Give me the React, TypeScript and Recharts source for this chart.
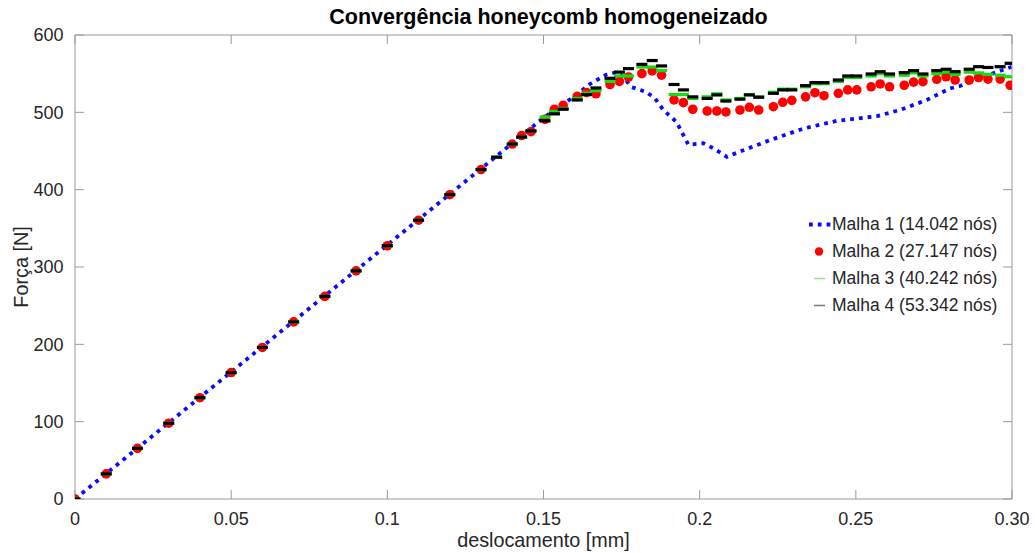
import { ComposedChart, XAxis, YAxis, Scatter, Line, Legend } from "recharts";

const FONT = "'Liberation Sans', Arial, Helvetica, sans-serif";

// deslocamentos comuns às malhas 2, 3 e 4 [mm]
const deslocamento = [
  0, 0.01, 0.02, 0.03, 0.04, 0.05, 0.06, 0.07, 0.08, 0.09, 0.1, 0.11, 0.12, 0.13, 0.135, 0.14, 0.143, 0.146,
  0.1505, 0.1535, 0.1563, 0.1608, 0.1638, 0.1668, 0.1713, 0.1743, 0.1772, 0.1815, 0.1848, 0.1878,
  0.1918, 0.1948, 0.1978, 0.2024, 0.2055, 0.2084, 0.2129, 0.2159, 0.2189, 0.2236, 0.2266, 0.2295,
  0.2339, 0.2369, 0.2398, 0.2444, 0.2474, 0.2503, 0.2549, 0.2578, 0.2608, 0.2655, 0.2685, 0.2715,
  0.2759, 0.2789, 0.2818, 0.2863, 0.2893, 0.2923, 0.2962, 0.2994,
];

// forças [N]; null = sem ponto nesse passo
const forcaMalha2 = [
  0, 32.5, 65.5, 98, 131, 163.5, 196, 229, 262, 295, 327.5, 360.5, 393.5, 426, null, 459, 470, 475,
  491, 504, 509, 520.7, 525.6, 524, 536, 540, 545.7, 550, 553.5, 548,
  516, 512.5, 504, 501.7, 501.7, 500.5, 503, 506.5, 503, 507.3, 513, 515.5,
  520, 525.4, 521.5, 524.6, 529, 529, 533, 536.7, 533, 535, 539, 539.7,
  542.7, 546, 541.8, 541.8, 545, 543, 543, 535,
];

const forcaMalha3 = [
  0, 32.5, 65.5, 98, 131, 163.5, 196, 229, 262, 295, 327.5, 360.5, 393.5, 426, 442, 459, 468, 476,
  494, 501, 505, 518, 525, 528, 540, 547, 547, 558.6, 558.6, 554,
  523, 523, 518, 520, 524, 516, 518, 523, 520, 526, 530, 530,
  533, 537, 537, 540, 545, 545, 547, 550, 547, 548, 551, 547,
  550, 552, 549, 552, 551, 549, 548, 546,
];

const forcaMalha4 = [
  0, 32.5, 65.5, 98, 131, 163.5, 196, 229, 262, 295, 327.5, 360.5, 393.5, 426, 442, 459, 468, 476,
  489, 498, 504, 516, 523, 531.5, 544, 552, 556.5, 562, 567, 560,
  536, 529, 520, 518, 522.5, 514.6, 517, 522.5, 519.5, 524.6, 529, 529,
  534.5, 538.4, 538.4, 541.8, 547, 547, 549.6, 552.5, 549.6, 551.3, 553.9, 549.6,
  553.9, 555.7, 552.6, 555.7, 559, 558, 559, 563.4,
];

// malha 1: curva contínua
const deslocamentoMalha1 = [
  0, 0.14, 0.15, 0.16, 0.165, 0.17, 0.1735, 0.176, 0.178, 0.183, 0.1857, 0.1884, 0.1926, 0.1964,
  0.2012, 0.2044, 0.2087, 0.214, 0.2225, 0.2332, 0.2439, 0.2567, 0.2641, 0.2727, 0.2802, 0.2834,
  0.2898, 0.2972, 0.3,
];
const forcaMalha1 = [
  0, 460, 493, 521, 537, 548.5, 552, 544, 533, 526, 518, 503, 487.5, 458,
  460, 453.5, 442.5, 451, 464, 479, 489, 495, 503, 516, 531, 534,
  545, 555, 559,
];

const xTicks = [0, 0.05, 0.1, 0.15, 0.2, 0.25, 0.3];
const xTickLabels = ["0", "0.05", "0.1", "0.15", "0.2", "0.25", "0.30"];
const yTicks = [0, 100, 200, 300, 400, 500, 600];

const legendLabels = [
  "Malha 1 (14.042 nós)",
  "Malha 2 (27.147 nós)",
  "Malha 3 (40.242 nós)",
  "Malha 4 (53.342 nós)",
];

const BLUE = "#0a0aff";
const RED = "#ff0000";
const GREEN = "#10e010";
const AXIS = "#9a9a9a";
const TEXT = "#262626";
const DOTS = "3.8 5";

const pontos = (xs: number[], ys: (number | null)[]) =>
  xs.map((x, i) => ({ x, y: ys[i] })).filter((p) => p.y !== null);

const malha1 = pontos(deslocamentoMalha1, forcaMalha1);
const malha2 = pontos(deslocamento, forcaMalha2);
const malha3 = pontos(deslocamento, forcaMalha3);
const malha4 = pontos(deslocamento, forcaMalha4);

const RedDot = (p: any) => <circle cx={p.cx} cy={p.cy} r={4.8} fill={RED} />;
const dash = (color: string) => (p: any) =>
  <rect x={p.cx - 5.5} y={p.cy - 1.6} width={11} height={3.2} fill={color} />;
const NoMark = () => null;

function ForceTitle() {
  return (
    <text
      x={21}
      y={267}
      transform="rotate(-90 21 267)"
      textAnchor="middle"
      dominantBaseline="central"
      fontSize={19.8}
      fill={TEXT}
      fontFamily={FONT}
    >
      Força [N]
    </text>
  );
}

function MeshLegend() {
  const samples = [
    <line x1={3} x2={25} y1={13.5} y2={13.5} stroke={BLUE} strokeWidth={3.8} strokeDasharray={DOTS} />,
    <circle cx={13} cy={13.5} r={4.2} fill={RED} />,
    <line x1={8} x2={19} y1={13.5} y2={13.5} stroke="#86e886" strokeWidth={1.5} />,
    <line x1={8} x2={19} y1={13.5} y2={13.5} stroke="#7a7a7a" strokeWidth={1.5} />,
  ];
  return (
    <div style={{ fontFamily: FONT, fontSize: 17.5, color: TEXT }}>
      {legendLabels.map((label, i) => (
        <div key={label} style={{ display: "flex", alignItems: "center", height: 27 }}>
          <svg width={26} height={27}>{samples[i]}</svg>
          <span style={{ whiteSpace: "nowrap" }}>{label}</span>
        </div>
      ))}
    </div>
  );
}

export default function App() {
  const tickStyle = { fill: TEXT, fontSize: 18, fontFamily: FONT };
  return (
    <div style={{ position: "absolute", left: 0, top: 0, background: "#fff" }}>
      <ComposedChart width={1035} height={553} margin={{ top: 34, right: 22, bottom: 0, left: 0 }}>
        <XAxis
          dataKey="x"
          type="number"
          domain={[0, 0.3]}
          ticks={xTicks}
          tickFormatter={(v: number) => xTickLabels[xTicks.indexOf(v)] ?? String(v)}
          height={54}
          tickSize={-9}
          tickMargin={22}
          stroke={AXIS}
          tick={tickStyle}
          allowDataOverflow
          label={{ value: "deslocamento [mm]", position: "insideBottom", offset: 6, fontSize: 19.8, fill: TEXT, fontFamily: FONT }}
        />
        {/* top edge of the box, with inward ticks and the title */}
        <XAxis
          xAxisId="top"
          orientation="top"
          dataKey="x"
          type="number"
          domain={[0, 0.3]}
          ticks={xTicks}
          tickFormatter={() => ""}
          height={1}
          tickSize={-9}
          stroke={AXIS}
          allowDataOverflow
          label={{
            value: "Convergência honeycomb homogeneizado",
            position: "top",
            offset: 10,
            dx: 5,
            fontSize: 21.5,
            fontWeight: "bold",
            fill: "#000",
            fontFamily: FONT,
          }}
        />
        <YAxis
          dataKey="y"
          type="number"
          domain={[0, 600]}
          ticks={yTicks}
          width={75}
          tickSize={-9}
          tickMargin={20.5}
          stroke={AXIS}
          tick={tickStyle}
          allowDataOverflow
          label={<ForceTitle />}
        />
        {/* right edge of the box */}
        <YAxis
          yAxisId="right"
          orientation="right"
          dataKey="y"
          type="number"
          domain={[0, 600]}
          ticks={yTicks}
          tickFormatter={() => ""}
          width={1}
          tickSize={-9}
          stroke={AXIS}
          allowDataOverflow
        />
        <Scatter
          xAxisId="top"
          yAxisId="right"
          data={malha4}
          dataKey="y"
          shape={NoMark}
          legendType="none"
          isAnimationActive={false}
        />
        <Line
          data={malha1}
          dataKey="y"
          type="linear"
          stroke={BLUE}
          strokeWidth={3.8}
          strokeDasharray={DOTS}
          dot={false}
          activeDot={false}
          isAnimationActive={false}
        />
        <Scatter data={malha2} dataKey="y" shape={RedDot} isAnimationActive={false} />
        <Scatter data={malha3} dataKey="y" shape={dash(GREEN)} isAnimationActive={false} />
        <Scatter data={malha4} dataKey="y" shape={dash("#000")} isAnimationActive={false} />
        <Legend
          layout="vertical"
          align="center"
          verticalAlign="middle"
          wrapperStyle={{ left: 806, top: 211, width: 220 }}
          content={() => <MeshLegend />}
        />
      </ComposedChart>
    </div>
  );
}
